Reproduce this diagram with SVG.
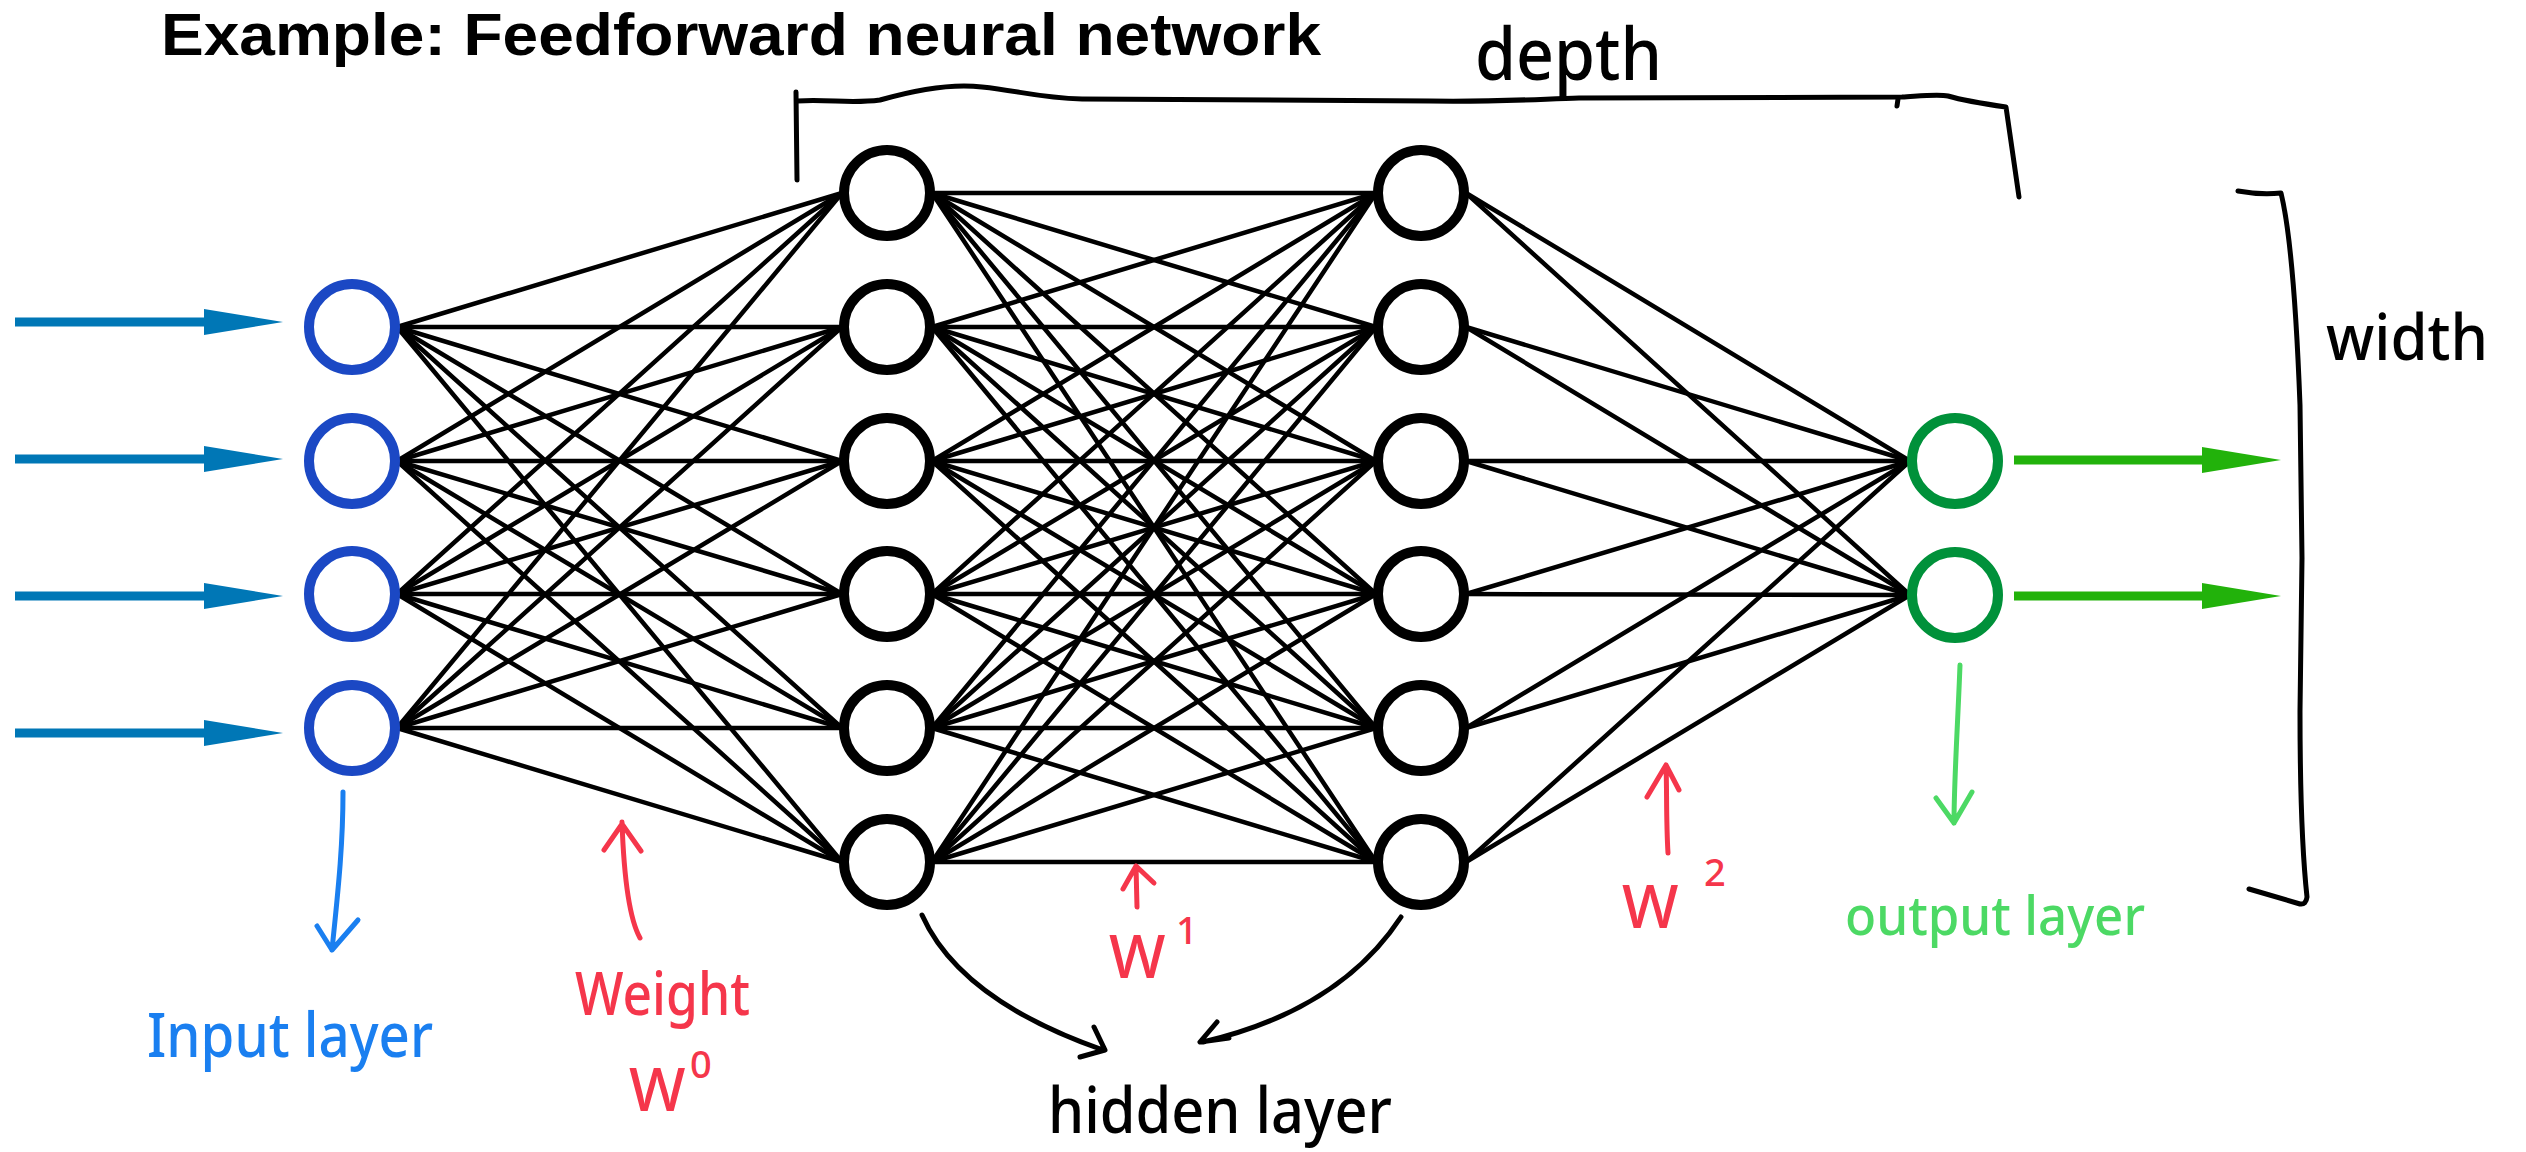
<svg xmlns="http://www.w3.org/2000/svg" width="2526" height="1152" viewBox="0 0 2526 1152">
<style>
.bg{fill:#ffffff}
.w{stroke:#000;stroke-width:4.5;stroke-linecap:round}
.in{fill:#fff;stroke:#1b48c4;stroke-width:10}
.hid{fill:#fff;stroke:#000;stroke-width:10}
.out{fill:#fff;stroke:#00913a;stroke-width:10}
.hand{fill:none;stroke-width:5;stroke-linecap:round;stroke-linejoin:round}
.title{font-family:"Liberation Sans",Arial,sans-serif;font-weight:bold;font-size:60px;fill:#000}
.lab{font-family:"Noto Sans","DejaVu Sans",sans-serif;font-weight:500}
</style>
<defs>
<marker id="blueHead" markerUnits="userSpaceOnUse" markerWidth="80" markerHeight="26" refX="0" refY="13" orient="auto"><path d="M0,0 L79,13 L0,26 z" fill="#0077b6"/></marker>
<marker id="greenHead" markerUnits="userSpaceOnUse" markerWidth="80" markerHeight="26" refX="0" refY="13" orient="auto"><path d="M0,0 L79,13 L0,26 z" fill="#22b20b"/></marker>
</defs>
<rect class="bg" x="0" y="0" width="2526" height="1152"/>
<text class="title" x="161" y="55" textLength="1160" lengthAdjust="spacingAndGlyphs">Example: Feedforward neural network</text>

<g id="connectors">
<g id="w0">
<line class="w" x1="397" y1="327" x2="842" y2="193"/><line class="w" x1="397" y1="327" x2="842" y2="327"/><line class="w" x1="397" y1="327" x2="842" y2="461"/><line class="w" x1="397" y1="327" x2="842" y2="594"/><line class="w" x1="397" y1="327" x2="842" y2="728"/><line class="w" x1="397" y1="327" x2="842" y2="862"/>
<line class="w" x1="397" y1="461" x2="842" y2="193"/><line class="w" x1="397" y1="461" x2="842" y2="327"/><line class="w" x1="397" y1="461" x2="842" y2="461"/><line class="w" x1="397" y1="461" x2="842" y2="594"/><line class="w" x1="397" y1="461" x2="842" y2="728"/><line class="w" x1="397" y1="461" x2="842" y2="862"/>
<line class="w" x1="397" y1="594" x2="842" y2="193"/><line class="w" x1="397" y1="594" x2="842" y2="327"/><line class="w" x1="397" y1="594" x2="842" y2="461"/><line class="w" x1="397" y1="594" x2="842" y2="594"/><line class="w" x1="397" y1="594" x2="842" y2="728"/><line class="w" x1="397" y1="594" x2="842" y2="862"/>
<line class="w" x1="397" y1="728" x2="842" y2="193"/><line class="w" x1="397" y1="728" x2="842" y2="327"/><line class="w" x1="397" y1="728" x2="842" y2="461"/><line class="w" x1="397" y1="728" x2="842" y2="594"/><line class="w" x1="397" y1="728" x2="842" y2="728"/><line class="w" x1="397" y1="728" x2="842" y2="862"/>
</g>
<g id="w1">
<line class="w" x1="932" y1="193" x2="1376" y2="193"/><line class="w" x1="932" y1="193" x2="1376" y2="327"/><line class="w" x1="932" y1="193" x2="1376" y2="461"/><line class="w" x1="932" y1="193" x2="1376" y2="594"/><line class="w" x1="932" y1="193" x2="1376" y2="728"/><line class="w" x1="932" y1="193" x2="1376" y2="862"/>
<line class="w" x1="932" y1="327" x2="1376" y2="193"/><line class="w" x1="932" y1="327" x2="1376" y2="327"/><line class="w" x1="932" y1="327" x2="1376" y2="461"/><line class="w" x1="932" y1="327" x2="1376" y2="594"/><line class="w" x1="932" y1="327" x2="1376" y2="728"/><line class="w" x1="932" y1="327" x2="1376" y2="862"/>
<line class="w" x1="932" y1="461" x2="1376" y2="193"/><line class="w" x1="932" y1="461" x2="1376" y2="327"/><line class="w" x1="932" y1="461" x2="1376" y2="461"/><line class="w" x1="932" y1="461" x2="1376" y2="594"/><line class="w" x1="932" y1="461" x2="1376" y2="728"/><line class="w" x1="932" y1="461" x2="1376" y2="862"/>
<line class="w" x1="932" y1="594" x2="1376" y2="193"/><line class="w" x1="932" y1="594" x2="1376" y2="327"/><line class="w" x1="932" y1="594" x2="1376" y2="461"/><line class="w" x1="932" y1="594" x2="1376" y2="594"/><line class="w" x1="932" y1="594" x2="1376" y2="728"/><line class="w" x1="932" y1="594" x2="1376" y2="862"/>
<line class="w" x1="932" y1="728" x2="1376" y2="193"/><line class="w" x1="932" y1="728" x2="1376" y2="327"/><line class="w" x1="932" y1="728" x2="1376" y2="461"/><line class="w" x1="932" y1="728" x2="1376" y2="594"/><line class="w" x1="932" y1="728" x2="1376" y2="728"/><line class="w" x1="932" y1="728" x2="1376" y2="862"/>
<line class="w" x1="932" y1="862" x2="1376" y2="193"/><line class="w" x1="932" y1="862" x2="1376" y2="327"/><line class="w" x1="932" y1="862" x2="1376" y2="461"/><line class="w" x1="932" y1="862" x2="1376" y2="594"/><line class="w" x1="932" y1="862" x2="1376" y2="728"/><line class="w" x1="932" y1="862" x2="1376" y2="862"/>
</g>
<g id="w2">
<line class="w" x1="1466" y1="193" x2="1910" y2="461"/><line class="w" x1="1466" y1="193" x2="1910" y2="595"/>
<line class="w" x1="1466" y1="327" x2="1910" y2="461"/><line class="w" x1="1466" y1="327" x2="1910" y2="595"/>
<line class="w" x1="1466" y1="461" x2="1910" y2="461"/><line class="w" x1="1466" y1="461" x2="1910" y2="595"/>
<line class="w" x1="1466" y1="594" x2="1910" y2="461"/><line class="w" x1="1466" y1="594" x2="1910" y2="595"/>
<line class="w" x1="1466" y1="728" x2="1910" y2="461"/><line class="w" x1="1466" y1="728" x2="1910" y2="595"/>
<line class="w" x1="1466" y1="862" x2="1910" y2="461"/><line class="w" x1="1466" y1="862" x2="1910" y2="595"/>
</g>
<g id="input-arrows" stroke="#0077b6" stroke-width="9">
<line x1="15" y1="322" x2="204" y2="322" marker-end="url(#blueHead)"/>
<line x1="15" y1="459" x2="204" y2="459" marker-end="url(#blueHead)"/>
<line x1="15" y1="596" x2="204" y2="596" marker-end="url(#blueHead)"/>
<line x1="15" y1="733" x2="204" y2="733" marker-end="url(#blueHead)"/>
</g>
<g id="output-arrows" stroke="#22b20b" stroke-width="9">
<line x1="2014" y1="460" x2="2202" y2="460" marker-end="url(#greenHead)"/>
<line x1="2014" y1="596" x2="2202" y2="596" marker-end="url(#greenHead)"/>
</g>
</g>

<g id="input-layer">
<circle id="in1" class="in" cx="352" cy="327" r="43"/>
<circle id="in2" class="in" cx="352" cy="461" r="43"/>
<circle id="in3" class="in" cx="352" cy="594" r="43"/>
<circle id="in4" class="in" cx="352" cy="728" r="43"/>
</g>
<g id="hidden-layer-1">
<circle id="h1a" class="hid" cx="887" cy="193" r="43"/>
<circle id="h1b" class="hid" cx="887" cy="327" r="43"/>
<circle id="h1c" class="hid" cx="887" cy="461" r="43"/>
<circle id="h1d" class="hid" cx="887" cy="594" r="43"/>
<circle id="h1e" class="hid" cx="887" cy="728" r="43"/>
<circle id="h1f" class="hid" cx="887" cy="862" r="43"/>
</g>
<g id="hidden-layer-2">
<circle id="h2a" class="hid" cx="1421" cy="193" r="43"/>
<circle id="h2b" class="hid" cx="1421" cy="327" r="43"/>
<circle id="h2c" class="hid" cx="1421" cy="461" r="43"/>
<circle id="h2d" class="hid" cx="1421" cy="594" r="43"/>
<circle id="h2e" class="hid" cx="1421" cy="728" r="43"/>
<circle id="h2f" class="hid" cx="1421" cy="862" r="43"/>
</g>
<g id="output-layer">
<circle id="o1" class="out" cx="1955" cy="461" r="43"/>
<circle id="o2" class="out" cx="1955" cy="595" r="43"/>
</g>

<g id="depth-bracket">
<path class="hand" stroke="#000" stroke-width="6" d="M796,92 L797,180"/>
<path class="hand" stroke="#000" stroke-width="6" d="M797,101 C830,99 850,104 880,100 C915,90 950,83 982,87 C1020,91 1040,98 1082,99 L1430,101 C1500,102 1540,99 1579,98 L1902,97 C1920,96 1938,94 1948,96 C1965,101 1985,104 2006,107 L2019,197"/>
<path class="hand" stroke="#000" stroke-width="4" d="M1898,99 L1897,106"/>
<text class="lab" x="1475" y="80" font-size="72" textLength="187" lengthAdjust="spacingAndGlyphs" fill="#000">depth</text>
</g>
<g id="width-bracket">
<path class="hand" stroke="#000" stroke-width="6" d="M2238,191 Q2260,195 2281,193 C2290,230 2296,300 2300,405 L2302,558 L2300,711 C2300,800 2303,860 2307,897 Q2306,905 2300,904 L2249,889"/>
<text class="lab" x="2326" y="360" font-size="64" textLength="162" lengthAdjust="spacingAndGlyphs" fill="#000">width</text>
</g>

<g id="input-label">
<path class="hand" stroke="#1a7ff0" d="M343,792 C343,850 337,900 332,950 M317,926 L332,950 L358,920"/>
<text class="lab" x="147" y="1057" font-size="62" textLength="286" lengthAdjust="spacingAndGlyphs" fill="#1a7ff0">Input layer</text>
</g>
<g id="weight-label">
<path class="hand" stroke="#f5364b" d="M640,938 C630,920 624,880 622,822 M604,850 L622,824 L641,851"/>
<text class="lab" x="575" y="1015" font-size="60" textLength="175" lengthAdjust="spacingAndGlyphs" fill="#f5364b">Weight</text>
<text class="lab" font-size="60" fill="#f5364b"><tspan x="629" y="1111">W</tspan><tspan x="690" y="1078" font-size="38">0</tspan></text>
</g>
<g id="w1-label">
<path class="hand" stroke="#f5364b" d="M1137,907 L1136,866 M1123,889 L1136,866 L1154,883"/>
<text class="lab" font-size="60" fill="#f5364b"><tspan x="1109" y="978">W</tspan><tspan x="1176" y="944" font-size="38">1</tspan></text>
</g>
<g id="w2-label">
<path class="hand" stroke="#f5364b" d="M1668,853 C1666,820 1667,790 1666,765 M1647,797 L1666,765 L1679,790"/>
<text class="lab" font-size="60" fill="#f5364b"><tspan x="1622" y="928">W</tspan><tspan x="1704" y="886" font-size="38">2</tspan></text>
</g>
<g id="hidden-label">
<path class="hand" stroke="#000" d="M922,915 Q960,1000 1103,1050 M1094,1027 L1105,1050 L1080,1057"/>
<path class="hand" stroke="#000" d="M1401,917 Q1340,1010 1203,1042 M1217,1022 L1200,1042 L1229,1038"/>
<text class="lab" x="1048" y="1133" font-size="64" textLength="344" lengthAdjust="spacingAndGlyphs" fill="#000">hidden layer</text>
</g>
<g id="output-label">
<path class="hand" stroke="#4cd964" d="M1960,665 C1958,720 1954,780 1954,823 M1936,798 L1954,823 L1972,792"/>
<text class="lab" x="1845" y="935" font-size="54" textLength="300" lengthAdjust="spacingAndGlyphs" fill="#4cd964">output layer</text>
</g>
</svg>
